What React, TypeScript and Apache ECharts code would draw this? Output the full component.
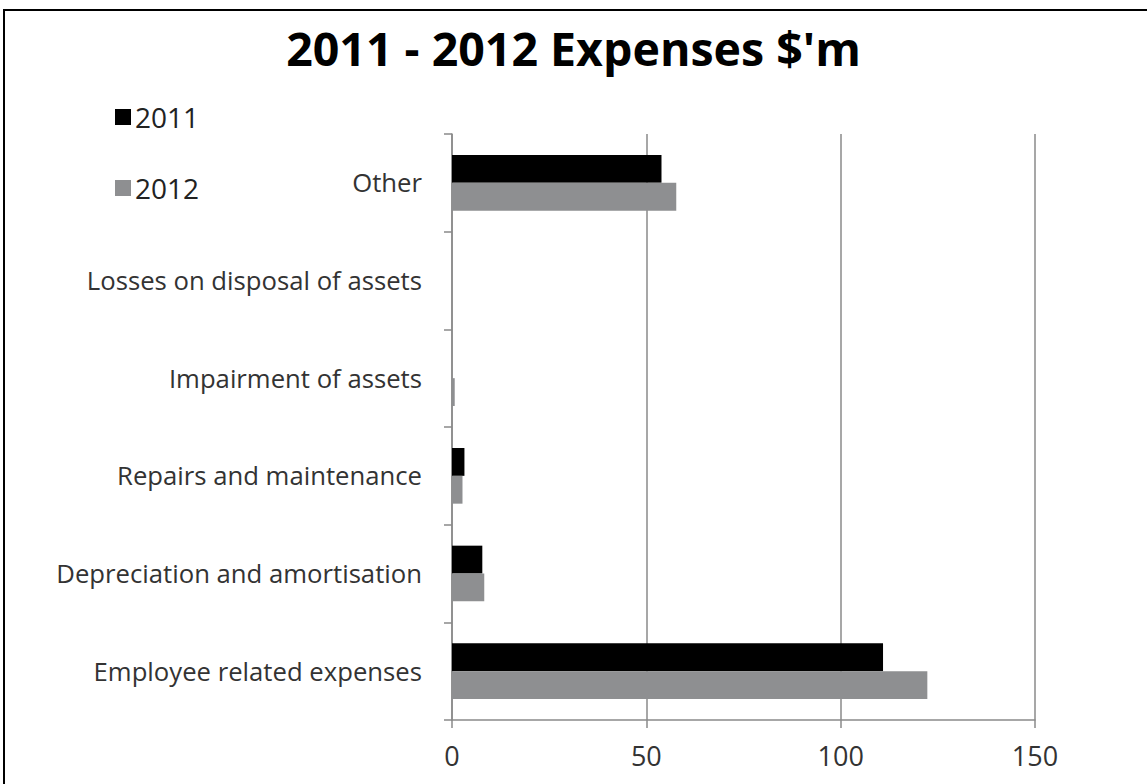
import React, { useEffect, useRef } from "react";
import * as echarts from "echarts";

const categories = [
  "Employee related expenses",
  "Depreciation and amortisation",
  "Repairs and maintenance",
  "Impairment of assets",
  "Losses on disposal of assets",
  "Other",
];
const values2011 = [110.9, 7.8, 3.2, 0, 0, 53.9];
const values2012 = [122.3, 8.3, 2.7, 0.7, 0, 57.7];
const xTicks = { min: 0, max: 150, interval: 50 };

const FONT = "'Open Sans', 'Noto Sans', sans-serif";

export default function App() {
  const ref = useRef<HTMLDivElement>(null);
  useEffect(() => {
    const chart = echarts.init(ref.current!, null, { renderer: "svg" });
    chart.setOption({
      animation: false,
      backgroundColor: "#ffffff",
      title: {
        text: "2011 - 2012 Expenses $'m",
        left: "center",
        top: 19,
        textStyle: { fontFamily: FONT, fontSize: 46.5, fontWeight: "bold", color: "#000" },
      },
      legend: {
        orient: "vertical",
        left: 110,
        top: 98,
        itemWidth: 16,
        itemHeight: 16,
        itemGap: 43,
        icon: "rect",
        data: ["2011", "2012"],
        textStyle: {
          fontFamily: FONT,
          fontSize: 28,
          lineHeight: 28,
          color: "#222",
          padding: [0, 0, 0, -1],
        },
      },
      graphic: [
        {
          type: "rect",
          shape: { x: 4, y: 10, width: 1160, height: 800 },
          style: { fill: "none", stroke: "#000", lineWidth: 2 },
        },
      ],
      grid: { left: 452, right: 112, top: 134, bottom: 64 },
      xAxis: {
        type: "value",
        min: xTicks.min,
        max: xTicks.max,
        interval: xTicks.interval,
        axisLine: { show: true, lineStyle: { color: "#8a8a8a", width: 1.5 } },
        axisTick: { show: true, length: 8, lineStyle: { color: "#8a8a8a", width: 1.5 } },
        splitLine: { show: true, lineStyle: { color: "#8a8a8a", width: 1.5 } },
        axisLabel: { fontFamily: FONT, fontSize: 27, color: "#333", margin: 22 },
      },
      yAxis: {
        type: "category",
        data: categories,
        axisLine: { show: true, lineStyle: { color: "#8a8a8a", width: 1.5 } },
        axisTick: { show: true, length: 8, lineStyle: { color: "#8a8a8a", width: 1.5 } },
        axisLabel: {
          fontFamily: FONT,
          fontSize: 25.7,
          color: "#333",
          margin: 30,
          padding: [6, 0, 0, 0],
        },
      },
      series: [
        {
          name: "2011",
          type: "bar",
          data: values2011,
          barGap: "0%",
          barCategoryGap: "43%",
          itemStyle: { color: "#000000" },
        },
        {
          name: "2012",
          type: "bar",
          data: values2012,
          barGap: "0%",
          barCategoryGap: "43%",
          itemStyle: { color: "#8e8f91" },
        },
      ],
    });
    return () => chart.dispose();
  }, []);
  return (
    <div
      ref={ref}
      style={{ position: "fixed", left: 0, top: 0, width: 1147, height: 784 }}
    />
  );
}
